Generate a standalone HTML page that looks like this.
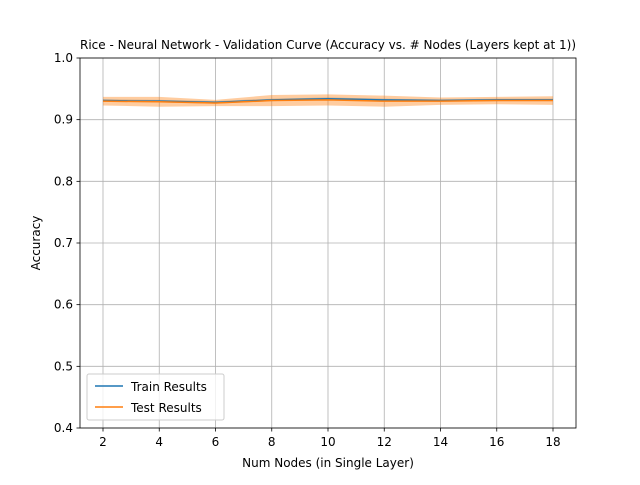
<!DOCTYPE html>
<html><head><meta charset="utf-8"><style>
body{margin:0;background:#fff;font-family:"Liberation Sans","DejaVu Sans",sans-serif}
svg text{font-family:"DejaVu Sans","Liberation Sans",sans-serif}
</style></head><body>
<svg id="chart" width="640" height="480" xmlns="http://www.w3.org/2000/svg">
<rect width="640" height="480" fill="#fff"/>
<g id="grid"></g><g id="bands"></g><g id="lines"></g>
<rect x="80" y="58" width="496" height="370" fill="none" stroke="#000" stroke-width="0.8"/>
<g id="ticks"></g>
<text x="328" y="49" font-size="12" text-anchor="middle">Rice - Neural Network - Validation Curve (Accuracy vs. # Nodes (Layers kept at 1))</text>
<text x="328" y="467" font-size="12" text-anchor="middle">Num Nodes (in Single Layer)</text>
<text transform="translate(40,243) rotate(-90)" font-size="12" text-anchor="middle">Accuracy</text>
<g>
<rect x="87" y="374" width="137" height="46" rx="2" fill="#fff" fill-opacity="0.8" stroke="#ccc"/>
<line x1="95" y1="386" x2="123" y2="386" stroke="#1f77b4" stroke-width="1.5"/>
<text x="131" y="391" font-size="12">Train Results</text>
<line x1="95" y1="407" x2="123" y2="407" stroke="#ff7f0e" stroke-width="1.5"/>
<text x="131" y="412" font-size="12">Test Results</text>
</g>
</svg>
<script>
const nodes=[2,4,6,8,10,12,14,16,18];
const trainMean=[0.931,0.930,0.928,0.932,0.934,0.932,0.931,0.932,0.932];
const trainStd=[0.002,0.002,0.002,0.002,0.002,0.002,0.002,0.002,0.002];
const testMean=[0.930,0.929,0.927,0.931,0.932,0.930,0.930,0.931,0.931];
const testStd=[0.007,0.008,0.005,0.009,0.009,0.009,0.006,0.006,0.007];
const xTicks=[2,4,6,8,10,12,14,16,18];
const yTicks=[0.4,0.5,0.6,0.7,0.8,0.9,1.0];
const NS="http://www.w3.org/2000/svg";
const X=v=>103+(v-2)*(553-103)/16;
const Y=v=>428-(v-0.4)*(370/0.6);
function mk(t,a,p){const e=document.createElementNS(NS,t);for(const k in a)e.setAttribute(k,a[k]);p.appendChild(e);return e;}
const g=document.getElementById('grid'),tk=document.getElementById('ticks');
xTicks.forEach(v=>{const x=X(v);
 const l=mk('line',{x1:x,x2:x,y1:58,y2:428,stroke:'#b0b0b0','stroke-width':0.8},g);
 
 
 mk('line',{x1:x,x2:x,y1:428,y2:431.5,stroke:'#000','stroke-width':0.8},tk);
 const t=mk('text',{x:x,y:446,'font-size':12,'text-anchor':'middle'},tk);t.textContent=v;
 
 });
yTicks.forEach(v=>{const y=Y(v);
 const l=mk('line',{x1:80,x2:576,y1:y,y2:y,stroke:'#b0b0b0','stroke-width':0.8},g);
 
 
 mk('line',{x1:76.5,x2:80,y1:y,y2:y,stroke:'#000','stroke-width':0.8},tk);
 const t=mk('text',{x:73,y:y+4,'font-size':12,'text-anchor':'end'},tk);t.textContent=v.toFixed(1);
 
 });
function band(m,s,c,name){const up=nodes.map((n,i)=>X(n)+','+Y(m[i]+s[i]));const dn=nodes.map((n,i)=>X(n)+','+Y(m[i]-s[i])).reverse();
 const p=mk('polygon',{points:up.concat(dn).join(' '),fill:c,'fill-opacity':0.4},document.getElementById('bands'));
 
 }
function line(m,c,name){const p=mk('polyline',{points:nodes.map((n,i)=>X(n)+','+Y(m[i])).join(' '),fill:'none',stroke:c,'stroke-width':1.5},document.getElementById('lines'));
 
 }
band(trainMean,trainStd,'#1f77b4','train-std-band');
band(testMean,testStd,'#ff7f0e','test-std-band');
line(trainMean,'#1f77b4','train-line');
line(testMean,'#ff7f0e','test-line');
</script>
</body></html>
